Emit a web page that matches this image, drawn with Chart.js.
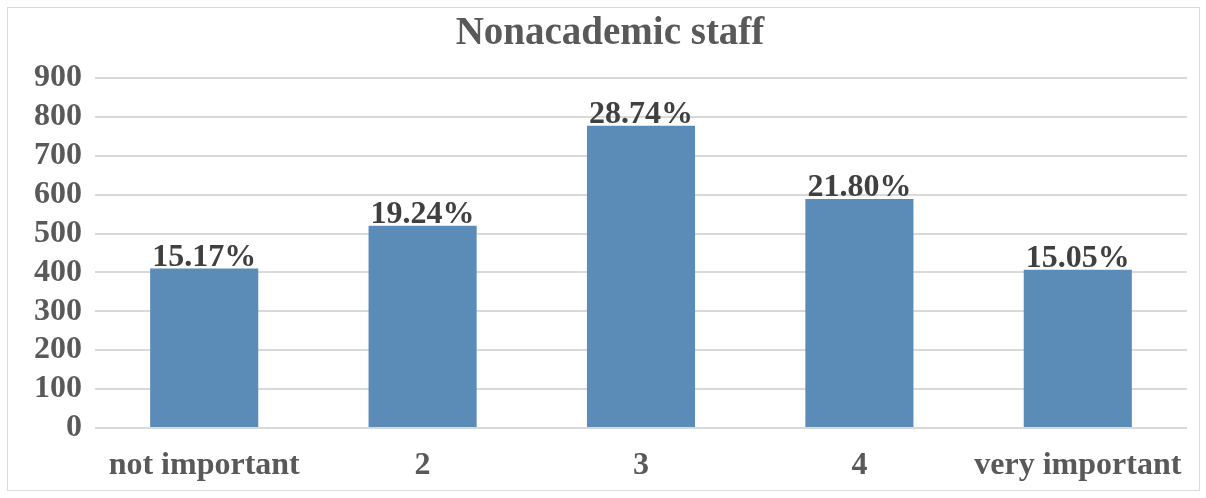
<!DOCTYPE html>
<html>
<head>
<meta charset="utf-8">
<script src="https://cdn.jsdelivr.net/npm/chart.js@4"></script>
<style>
  html, body { margin: 0; padding: 0; background: #fff; }
  #wrap { width: 1206px; height: 498px; position: relative; }
</style>
</head>
<body>
<div id="wrap"><canvas id="chart" width="1206" height="498"></canvas></div>
<script>
// Chart values
const categories = ['not important', '2', '3', '4', 'very important'];
const counts = [410, 520, 777, 589, 407];
const percentLabels = ['15.17%', '19.24%', '28.74%', '21.80%', '15.05%'];
const yTicks = [0, 100, 200, 300, 400, 500, 600, 700, 800, 900];
const chartTitle = 'Nonacademic staff';

const FONT = '"Liberation Serif", "Times New Roman", serif';

// outer frame + title, the way the office chart box looks
const framePlugin = {
    id: 'frame',
    beforeDraw(chart) {
        const ctx = chart.ctx;
        ctx.save();
        ctx.fillStyle = '#fff';
        ctx.fillRect(0, 0, chart.width, chart.height);
        ctx.strokeStyle = '#d9d9d9';
        ctx.lineWidth = 1;
        ctx.strokeRect(7.5, 7.5, 1192, 483);
        ctx.font = 'bold 39px ' + FONT;
        ctx.fillStyle = '#595959';
        ctx.textAlign = 'center';
        ctx.textBaseline = 'alphabetic';
        ctx.fillText(chartTitle, 610, 44);
        ctx.restore();
    }
};

// percentage labels above the bars
const pctPlugin = {
    id: 'pct',
    afterDatasetsDraw(chart) {
        const ctx = chart.ctx;
        const meta = chart.getDatasetMeta(0);
        ctx.save();
        ctx.font = 'bold 32px ' + FONT;
        ctx.fillStyle = '#404040';
        ctx.textAlign = 'center';
        ctx.textBaseline = 'alphabetic';
        meta.data.forEach((bar, i) => {
            ctx.fillText(percentLabels[i], bar.x, bar.y - 3);
        });
        ctx.restore();
    }
};

new Chart(document.getElementById('chart'), {
    type: 'bar',
    data: {
        labels: categories,
        datasets: [{
            data: counts,
            backgroundColor: '#5b8cb8',
            borderWidth: 0,
            barPercentage: 0.495,
            categoryPercentage: 1.0
        }]
    },
    options: {
        responsive: false,
        animation: false,
        layout: { padding: { left: 0, right: 19, top: 78, bottom: 0 } },
        plugins: {
            legend: { display: false },
            tooltip: { enabled: false },
            title: { display: false }
        },
        scales: {
            x: {
                afterFit(axis) { axis.height = 70; },
                grid: { display: false },
                border: { display: false },
                ticks: {
                    color: '#595959',
                    font: { family: FONT, size: 32, weight: 'bold' },
                    padding: 11,
                    maxRotation: 0,
                    autoSkip: false
                }
            },
            y: {
                min: 0,
                max: 900,
                afterFit(axis) { axis.width = 95; },
                afterBuildTicks(axis) { axis.ticks = yTicks.map(v => ({ value: v })); },
                grid: { color: '#d9d9d9', lineWidth: 2, drawTicks: false },
                border: { display: false },
                ticks: {
                    color: '#595959',
                    font: { family: FONT, size: 32, weight: 'bold' },
                    padding: 13,
                    autoSkip: false
                }
            }
        }
    },
    plugins: [framePlugin, pctPlugin]
});
</script>
</body>
</html>
